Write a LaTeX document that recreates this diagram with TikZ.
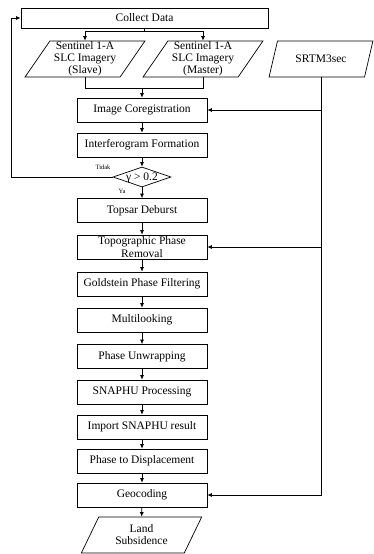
\documentclass[tikz,border=0pt]{standalone}
\usepackage{fontspec}
\setmainfont{Liberation Serif}
\usepackage{tikz}
\usetikzlibrary{shapes.geometric, arrows.meta, positioning, calc}

\begin{document}
\begin{tikzpicture}[
    x=1pt, y=-1pt,
    line width=0.7pt,
    >={Latex[length=4.5pt,width=4pt]},
    proc/.style={rectangle, draw, minimum width=130, minimum height=24, inner sep=0pt, align=center, font=\fontsize{11.5}{12.5}\selectfont},
    io/.style={trapezium, trapezium left angle=57.4, trapezium right angle=122.6, trapezium stretches=true, draw, minimum width=120, minimum height=36, inner sep=0pt, align=center, font=\fontsize{11.5}{12}\selectfont},
    cond/.style={diamond, draw, aspect=2.9, minimum width=58, minimum height=20, inner sep=0pt, text height=7pt, text depth=1pt, font=\fontsize{11.5}{12}\selectfont},
    small/.style={font=\fontsize{6.5}{7}\selectfont}
]
    \useasboundingbox (0,0) rectangle (374,554);

    \node[proc, minimum width=247, minimum height=20] (collect) at (144.5,18) {Collect Data};

    \node[io] (slave) at (85,59) {Sentinel 1-A\\SLC Imagery\\(Slave)};
    \node[io] (master) at (203,59) {Sentinel 1-A\\SLC Imagery\\(Master)};
    \node[io, minimum width=104] (srtm) at (321,59) {SRTM3sec};

    \node[proc] (coreg) at (142,110) {Image Coregistration};
    \node[proc] (interf) at (142,145) {Interferogram Formation};
    \node[cond] (gamma) at (142,177) {γ > 0.2};
    \node[small] (tidak) at (103,167) {Tidak};
    \node[small] (ya) at (122,191) {Ya};
    \node[proc] (deburst) at (142,210.5) {Topsar Deburst};
    \node[proc] (topo) at (142,247) {Topographic Phase\\Removal};
    \node[proc] (gold) at (142,284) {Goldstein Phase Filtering};
    \node[proc] (multi) at (142,320) {Multilooking};
    \node[proc] (unwrap) at (142,356.5) {Phase Unwrapping};
    \node[proc] (snaphu) at (142,392) {SNAPHU Processing};
    \node[proc] (import) at (142,427) {Import SNAPHU result};
    \node[proc] (disp) at (142,461) {Phase to Displacement};
    \node[proc] (geo) at (142,495) {Geocoding};
    \node[io, minimum width=121, trapezium left angle=62, trapezium right angle=118] (land) at (141.5,535) {Land\\Subsidence};

    % data input
    \coordinate (split) at (144.5,31);
    \coordinate (join) at (142,88);
    \draw (collect.south) -- (split);
    \draw[->] (split) -| (slave.center |- slave.north);
    \draw[->] (split) -| (master.center |- master.north);
    \draw (slave.center |- slave.south) |- (join);
    \draw (master.center |- master.south) |- (join);
    \draw[->] (join) -- (coreg);

    % DEM
    \draw[->] (srtm.center |- srtm.south) |- (geo.east);
    \draw[->] (srtm.center |- coreg.east) -- (coreg.east);
    \draw[->] (srtm.center |- topo.east) -- (topo.east);

    % main chain
    \foreach \a/\b in {coreg/interf, interf/gamma, gamma/deburst, deburst/topo, topo/gold, gold/multi, multi/unwrap, unwrap/snaphu, snaphu/import, import/disp, disp/geo, geo/land}
        \draw[->] (\a) -- (\b);

    % coherence check
    \coordinate (back) at (11,177);
    \draw[->] (gamma.west) -- (back) |- (collect.west);

\end{tikzpicture}
\end{document}
